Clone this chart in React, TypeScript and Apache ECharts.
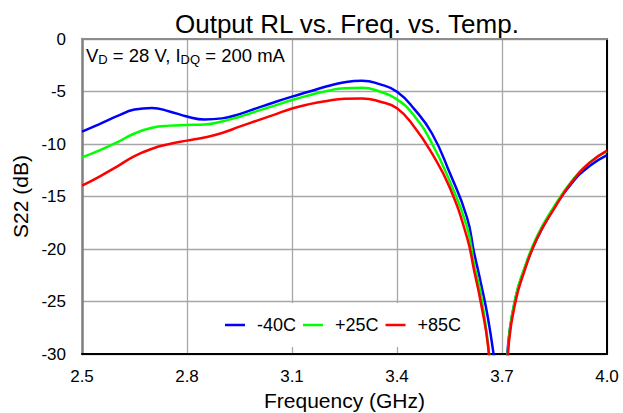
import React, { useEffect, useRef } from "react";
import * as echarts from "echarts";

const FONT = '"Liberation Sans", Arial, Helvetica, sans-serif';

// Frequency (GHz)
const freq = [2.5, 2.55, 2.6, 2.65, 2.7, 2.75, 2.8, 2.85, 2.9, 2.95, 3.0, 3.05, 3.1, 3.15, 3.2, 3.25, 3.3, 3.35, 3.4, 3.45, 3.5, 3.55, 3.6, 3.62, 3.64, 3.66, 3.68, 3.7, 3.72, 3.74, 3.76, 3.8, 3.85, 3.9, 3.95, 4.0];

// S22 (dB)
const sM40 = [-8.83, -8.1, -7.35, -6.72, -6.56, -6.9, -7.38, -7.66, -7.56, -7.15, -6.58, -6.02, -5.49, -5.0, -4.5, -4.12, -3.98, -4.3, -5.02, -6.7, -9.0, -12.7, -17.0, -20.3, -23.3, -26.6, -31, -36, -28.3, -24.5, -22.3, -19.0, -16.0, -13.7, -12.1, -11.05];
const sP25 = [-11.27, -10.6, -9.85, -9.0, -8.45, -8.25, -8.19, -8.14, -7.85, -7.4, -6.87, -6.35, -5.81, -5.35, -4.95, -4.68, -4.65, -5.0, -5.75, -7.35, -9.95, -13.5, -17.9, -21.4, -24.4, -29.0, -36, -38, -28.4, -24.4, -22.2, -18.8, -15.9, -13.5, -11.75, -10.7];
const sP85 = [-13.97, -13.1, -12.15, -11.15, -10.45, -10.0, -9.68, -9.38, -8.95, -8.35, -7.77, -7.2, -6.62, -6.2, -5.9, -5.7, -5.66, -5.95, -6.6, -8.4, -10.9, -14.1, -18.9, -22.0, -25.2, -29.2, -37, -38, -28.8, -24.8, -22.5, -19.0, -16.1, -13.6, -11.8, -10.63];

const seriesNames = ["-40C", "+25C", "+85C"];
const seriesColors = ["#0000ff", "#00ff00", "#ff0000"];
const seriesValues = [sM40, sP25, sP85];

const FREQ_MIN = 2.5;
const FREQ_MAX = 4.0;
const FREQ_STEP = 0.3;

export default function App() {
  const ref = useRef<HTMLDivElement>(null);
  useEffect(() => {
    if (!ref.current) return;
    const chart = echarts.init(ref.current, null, { renderer: "svg" });
    const series = seriesNames.map((name, i) => ({
      name,
      type: "line",
      xAxisIndex: 0,
      yAxisIndex: 0,
      data: freq.map((f, j) => [f - FREQ_MIN, seriesValues[i][j]]),
      showSymbol: false,
      symbol: "none",
      smooth: 0.5,
      clip: true,
      z: 3,
      lineStyle: { color: seriesColors[i], width: 2.5 },
      itemStyle: { color: seriesColors[i] },
    }));
    chart.setOption({
      animation: false,
      backgroundColor: "#ffffff",
      title: {
        text: "Output RL vs. Freq. vs. Temp.",
        left: 170,
        top: 6,
        textStyle: { fontFamily: FONT, fontSize: 26, fontWeight: "normal", color: "#000" },
      },
      grid: { left: 82, right: 16, top: 39, bottom: 59, outerBoundsMode: "none" },
      legend: {
        data: seriesNames.map((n) => ({ name: n, icon: "rect" })),
        left: 205,
        top: 303,
        padding: [13, 8, 13, 20],
        backgroundColor: "#ffffff",
        itemWidth: 20,
        itemHeight: 2.5,
        itemGap: 7,
        textStyle: { fontFamily: FONT, fontSize: 18, color: "#000", padding: [0, 0, 0, 7] },
      },
      graphic: [
        {
          type: "text",
          x: 86,
          y: 44,
          z: 10,
          style: {
            text: "{a|V}{b|D}{a| = 28 V, I}{b|DQ}{a| = 200 mA}",
            verticalAlign: "top",
            rich: {
              a: { fontFamily: FONT, fontSize: 18.5, fill: "#000", lineHeight: 22 },
              b: { fontFamily: FONT, fontSize: 13, fill: "#000", lineHeight: 10, verticalAlign: "bottom" },
            },
          },
        },
      ],
      xAxis: [
        {
          type: "value",
          min: 0,
          max: FREQ_MAX - FREQ_MIN,
          interval: FREQ_STEP,
          name: "Frequency (GHz)",
          nameLocation: "middle",
          nameGap: 25,
          nameTextStyle: { fontFamily: FONT, fontSize: 21, color: "#000" },
          axisLine: { show: true, onZero: false, lineStyle: { color: "#000", width: 2 } },
          axisTick: { show: false },
          axisLabel: {
            fontFamily: FONT,
            fontSize: 17,
            color: "#000",
            margin: 14,
            formatter: (v: number) => (v + FREQ_MIN).toFixed(1),
          },
          splitLine: { show: true, lineStyle: { color: "#a6a6a6", width: 1.3 } },
        },
        {
          type: "value",
          position: "top",
          min: 0,
          max: FREQ_MAX - FREQ_MIN,
          axisLine: { show: true, onZero: false, lineStyle: { color: "#8c8c8c", width: 2 } },
          axisTick: { show: false },
          axisLabel: { show: false },
          splitLine: { show: false },
        },
      ],
      yAxis: [
        {
          type: "value",
          min: -30,
          max: 0,
          interval: 5,
          name: "S22 (dB)",
          nameLocation: "middle",
          nameGap: 51,
          nameTextStyle: { fontFamily: FONT, fontSize: 21, color: "#000" },
          axisLine: { show: true, onZero: false, lineStyle: { color: "#808080", width: 2.5 } },
          axisTick: { show: false },
          axisLabel: { fontFamily: FONT, fontSize: 17, color: "#000", margin: 16 },
          splitLine: { show: true, lineStyle: { color: "#a6a6a6", width: 1.3 } },
        },
        {
          type: "value",
          position: "right",
          min: -30,
          max: 0,
          axisLine: { show: true, onZero: false, lineStyle: { color: "#000", width: 2 } },
          axisTick: { show: false },
          axisLabel: { show: false },
          splitLine: { show: false },
        },
      ],
      series,
    });
    return () => chart.dispose();
  }, []);
  return (
    <div
      ref={ref}
      style={{ position: "fixed", left: 0, top: 0, width: 623, height: 413, background: "#fff" }}
    />
  );
}
